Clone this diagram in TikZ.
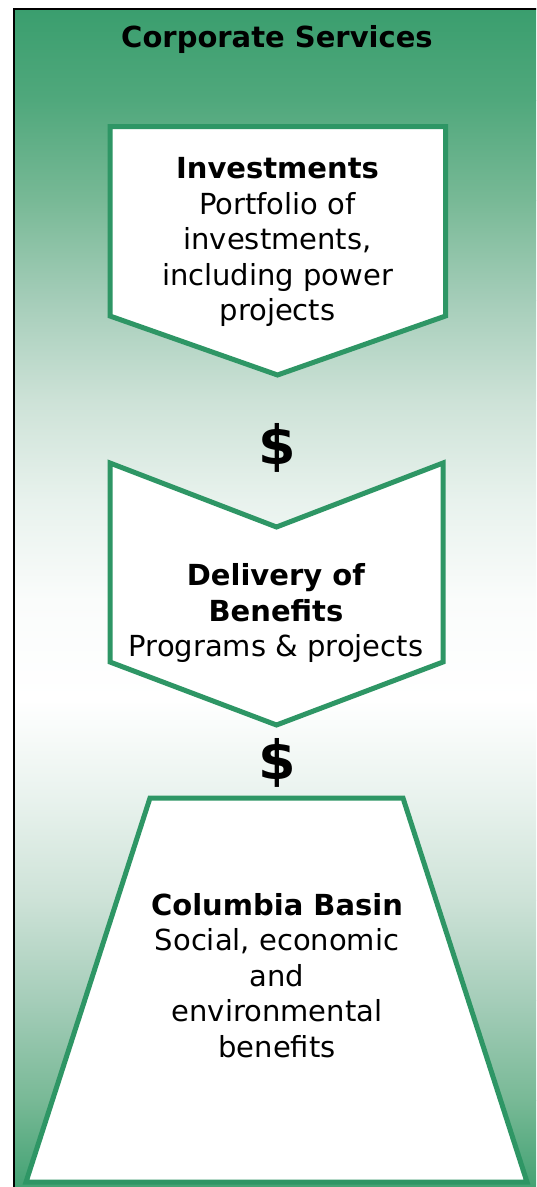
\documentclass[tikz,border=0pt]{standalone}
\usepackage{fontspec}
\setmainfont{DejaVu Sans}
\definecolor{edgegreen}{RGB}{46,150,101}
\definecolor{g0}{RGB}{58,158,110}
\definecolor{g1}{RGB}{80,168,124}
\definecolor{g2}{RGB}{120,185,150}
\definecolor{g3}{RGB}{165,205,185}
\definecolor{g4}{RGB}{205,226,215}
\definecolor{g5}{RGB}{232,242,237}
\definecolor{g6}{RGB}{250,252,251}
\definecolor{g7}{RGB}{255,255,255}
\definecolor{g11}{RGB}{62,160,112}
\tikzset{
  boxshape/.style={draw=edgegreen, fill=white, line width=5pt, line join=miter},
  bodytext/.style={align=center, font=\fontsize{29}{35.5}\selectfont, inner sep=0pt},
  titletext/.style={font=\fontsize{29}{35}\selectfont\bfseries, inner sep=0pt},
  dollar/.style={font=\fontsize{54}{60}\selectfont\bfseries, inner sep=0pt}
}
\begin{document}
\begin{tikzpicture}[x=1pt,y=-1pt]
\useasboundingbox (0,0) rectangle (536,1187);
\clip (0,0) rectangle (536,1187);
% background gradient
\foreach \ya/\yb/\ca/\cb in {8/100/g0/g1, 100/200/g1/g2, 200/300/g2/g3, 300/400/g3/g4, 400/500/g4/g5, 500/600/g5/g6, 600/700/g6/g7, 700/800/g7/g5, 800/900/g5/g4, 900/1000/g4/g3, 1000/1100/g3/g2, 1100/1195/g2/g11}
  \shade[top color=\ca, bottom color=\cb] (13,\ya) rectangle (536,\yb+0.6);
% frame
\draw[black, line width=1.6pt] (13.8,8.8) rectangle (560,1220);
% title
\node[titletext] (title) at (277,39) {Corporate Services};
% Investments
\draw[boxshape] (110,126.5) -- (445.5,126.5) -- (445.5,316) -- (277.5,375) -- (110,316) -- cycle;
\node[bodytext] (invest) at (277.5,242) {\textbf{Investments}\\Portfolio of\\investments,\\including power\\projects};
% dollar 1
\node[dollar] (d1) at (277.5,448) {\$};
% Delivery
\draw[boxshape] (110,463) -- (276.5,527) -- (443,463) -- (443,662) -- (276.5,725) -- (110,662) -- cycle;
\node[bodytext] (deliv) at (276,613) {\textbf{Delivery of}\\\textbf{Benefits}\\Programs \& projects};
% dollar 2
\node[dollar] (d2) at (277.5,763) {\$};
% Columbia
\draw[boxshape] (150,798) -- (403,798) -- (527,1182) -- (26,1182) -- cycle;
\node[bodytext] (basin) at (277,975.5) {\textbf{Columbia Basin}\\Social, economic\\and\\environmental\\benefits};
\end{tikzpicture}
\end{document}
